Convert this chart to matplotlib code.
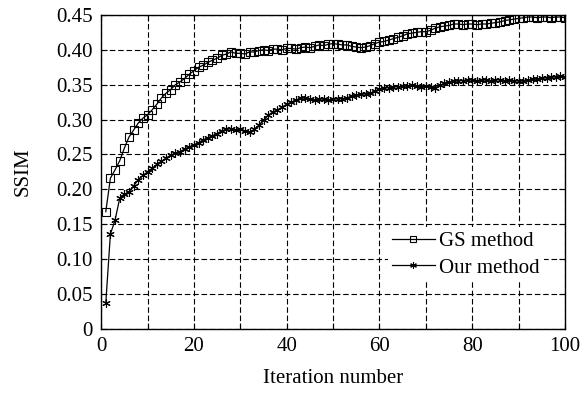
import numpy as np
import matplotlib
matplotlib.use("Agg")
from matplotlib import pyplot as plt

# values (iterations 1..100)
iterations = list(range(1, 101))

gs_ssim = [
    0.168, 0.216, 0.228, 0.241, 0.259, 0.275, 0.285, 0.295, 0.302, 0.307,
    0.314, 0.322, 0.331, 0.338, 0.343, 0.350, 0.354, 0.359, 0.365, 0.370,
    0.375, 0.378, 0.382, 0.385, 0.388, 0.392, 0.394, 0.397, 0.395, 0.395,
    0.394, 0.397, 0.397, 0.399, 0.400, 0.399, 0.401, 0.401, 0.400, 0.402,
    0.402, 0.401, 0.403, 0.404, 0.403, 0.405, 0.407, 0.406, 0.408, 0.409,
    0.408, 0.407, 0.407, 0.405, 0.404, 0.403, 0.404, 0.406, 0.409, 0.411,
    0.412, 0.414, 0.416, 0.418, 0.420, 0.423, 0.424, 0.425, 0.426, 0.426,
    0.428, 0.431, 0.433, 0.434, 0.435, 0.437, 0.437, 0.436, 0.437, 0.437,
    0.436, 0.437, 0.437, 0.438, 0.439, 0.440, 0.442, 0.443, 0.444, 0.445,
    0.446, 0.447, 0.447, 0.446, 0.447, 0.447, 0.446, 0.447, 0.447, 0.446,
]

our_ssim = [
    0.037, 0.136, 0.156, 0.187, 0.193, 0.196, 0.205, 0.214, 0.220, 0.225,
    0.230, 0.236, 0.240, 0.245, 0.249, 0.252, 0.254, 0.258, 0.261, 0.264,
    0.267, 0.271, 0.274, 0.277, 0.280, 0.284, 0.286, 0.287, 0.285, 0.286,
    0.284, 0.282, 0.286, 0.292, 0.299, 0.306, 0.311, 0.314, 0.318, 0.322,
    0.325, 0.328, 0.331, 0.331, 0.329, 0.328, 0.330, 0.329, 0.328, 0.329,
    0.330, 0.330, 0.331, 0.334, 0.335, 0.336, 0.337, 0.338, 0.341, 0.344,
    0.345, 0.346, 0.347, 0.347, 0.348, 0.348, 0.349, 0.348, 0.347, 0.348,
    0.347, 0.346, 0.349, 0.352, 0.354, 0.355, 0.356, 0.356, 0.357, 0.357,
    0.356, 0.357, 0.357, 0.356, 0.357, 0.357, 0.356, 0.357, 0.356, 0.355,
    0.356, 0.357, 0.358, 0.358, 0.359, 0.360, 0.361, 0.361, 0.362, 0.361,
]

x_ticks = [0, 10, 20, 30, 40, 50, 60, 70, 80, 90, 100]
x_labels = ["0", "", "20", "", "40", "", "60", "", "80", "", "100"]
y_ticks = [0, 0.05, 0.10, 0.15, 0.20, 0.25, 0.30, 0.35, 0.40, 0.45]
y_labels = ["0", "0.05", "0.10", "0.15", "0.20", "0.25", "0.30", "0.35", "0.40", "0.45"]

plt.rcParams["font.family"] = ["Liberation Serif", "DejaVu Serif"]
plt.rcParams["font.size"] = 15

fig = plt.figure(figsize=(5.88, 3.93), dpi=100)
ax = fig.add_axes([0.172, 0.163, 0.789, 0.799])

ax.plot(iterations, gs_ssim, color="black", linewidth=0.9, marker="s",
        markersize=5.5, markerfacecolor="none", markeredgewidth=0.8,
        label="GS method")
ax.plot(iterations, our_ssim, color="black", linewidth=0.9, marker=(6, 2, 0),
        markersize=6, markeredgewidth=0.8, label="Our method")

ax.set_xlim(0, 100)
ax.set_ylim(0, 0.45)
ax.set_xticks(x_ticks)
ax.set_xticklabels(x_labels)
ax.set_yticks(y_ticks)
ax.set_yticklabels(y_labels)
ax.tick_params(direction="in", top=True, right=True, length=4, width=0.8,
               labelsize=15)
ax.tick_params(axis="y", pad=6)
ax.tick_params(axis="x", pad=6)

ax.grid(True, color="black", linestyle=(0, (5, 2.5)), linewidth=0.8)
for spine in ax.spines.values():
    spine.set_linewidth(1.0)

ax.set_xlabel("Iteration number", fontsize=15, labelpad=9)
ax.set_ylabel("SSIM", fontsize=15, labelpad=17)

leg = ax.legend(loc="center", bbox_to_anchor=(0.786, 0.237), frameon=True,
                fontsize=15, handlelength=2.05, borderpad=0.2,
                labelspacing=0.35, handletextpad=0.2, markerscale=0.8)
leg.get_frame().set_edgecolor("none")
leg.get_frame().set_facecolor("white")
leg.get_frame().set_alpha(1.0)
leg.get_frame().set_boxstyle("square", pad=0.0)

fig.savefig("out.png", dpi=100)
